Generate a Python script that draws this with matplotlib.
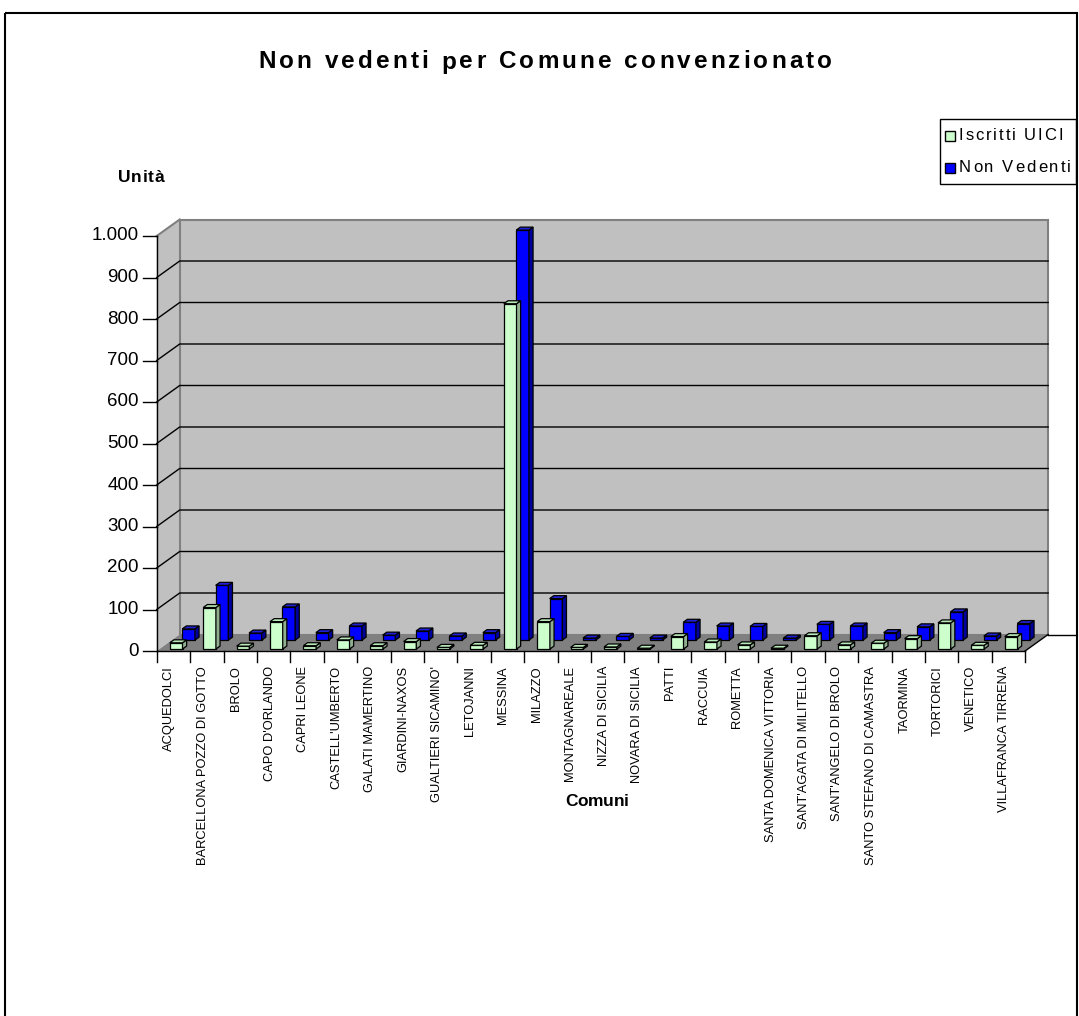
"""
Pseudo-3D column chart (Excel style): blind people per municipality.
The 3D look is drawn by hand with an oblique projection on a flat axes.
"""
import matplotlib

matplotlib.use("Agg")
import matplotlib.pyplot as plt  # noqa: E402
from matplotlib import font_manager, ft2font  # noqa: E402
from matplotlib.font_manager import FontProperties  # noqa: E402
from matplotlib.patches import Polygon, Rectangle  # noqa: E402
from matplotlib.transforms import Affine2D  # noqa: E402

W, H = 1079, 1016
FONT = "Liberation Sans"

comuni = [
    "ACQUEDOLCI", "BARCELLONA POZZO DI GOTTO", "BROLO", "CAPO D'ORLANDO",
    "CAPRI LEONE", "CASTELL'UMBERTO", "GALATI MAMERTINO", "GIARDINI-NAXOS",
    "GUALTIERI SICAMINO'", "LETOJANNI", "MESSINA", "MILAZZO", "MONTAGNAREALE",
    "NIZZA DI SICILIA", "NOVARA DI SICILIA", "PATTI", "RACCUIA", "ROMETTA",
    "SANTA DOMENICA VITTORIA", "SANT'AGATA DI MILITELLO", "SANT'ANGELO DI BROLO",
    "SANTO STEFANO DI CAMASTRA", "TAORMINA", "TORTORICI", "VENETICO",
    "VILLAFRANCA TIRRENA",
]
iscritti = [15, 100, 7, 66, 8, 22, 8, 18, 4, 9, 832, 66, 4, 5, 2,
            30, 17, 10, 2, 32, 10, 14, 25, 63, 9, 30]
non_vedenti = [27, 132, 17, 80, 18, 34, 12, 22, 10, 18, 988, 100, 5, 9, 5,
               43, 34, 33, 5, 38, 34, 18, 32, 68, 10, 40]
series_names = ["Iscritti UICI", "Non Vedenti"]
yticks = [0, 100, 200, 300, 400, 500, 600, 700, 800, 900, 1000]
ytick_labels = ["0", "100", "200", "300", "400", "500", "600", "700", "800",
                "900", "1.000"]
ymax = 1000

# box geometry (pixels of the reference picture)
X0_PX, Y0_PX = 156.7, 651.0      # front-left corner of the floor
CAT_PX, VAL_PX = 33.4, 0.415     # px per category, px per unit
DX, DY = 23 / CAT_PX, 16.5 / VAL_PX   # full depth offset, in data units

GREEN = ("#CCFFCC", "#8FAF8F", "#B8E8B8")   # front, side, top
BLUE = ("#0000FF", "#00009C", "#2020D8")

fig = plt.figure(figsize=(W / 100, H / 100), dpi=100)
ax = fig.add_axes([0, 0, 1, 1])
ax.set_xlim(-X0_PX / CAT_PX, (W - X0_PX) / CAT_PX)
ax.set_ylim(-(H - Y0_PX) / VAL_PX, Y0_PX / VAL_PX)
ax.axis("off")

# figure pixels, origin top-left
PX = Affine2D().scale(1, -1).translate(0, H)


def spaced_text(x, y, s, size, width, weight="normal", ha="center"):
    """Letter-spaced text, stretched to a given pixel width."""
    prop = FontProperties(family=FONT, size=size, weight=weight)
    font = ft2font.FT2Font(font_manager.findfont(prop))
    font.set_size(size, 100)
    adv = [font.load_char(ord(c)).linearHoriAdvance / 65536 for c in s]
    gap = (width - sum(adv)) / (len(s) - 1)
    left = x - width / 2 if ha == "center" else x
    for c, a in zip(s, adv):
        if c != " ":
            fig.text(left + a / 2, y, c, transform=PX, fontproperties=prop,
                     ha="center", va="center", color="black")
        left += a + gap


def box(x0, w, v, d0, d1, colors, z):
    front, side, top = colors
    xr = x0 + w
    ax.bar(x0 + d0 * DX, v, width=w, bottom=d0 * DY, align="edge",
           color=front, edgecolor="black", linewidth=0.9, zorder=z)
    side_pts = [(xr + d0 * DX, d0 * DY), (xr + d1 * DX, d1 * DY),
                (xr + d1 * DX, v + d1 * DY), (xr + d0 * DX, v + d0 * DY)]
    top_pts = [(x0 + d0 * DX, v + d0 * DY), (xr + d0 * DX, v + d0 * DY),
               (xr + d1 * DX, v + d1 * DY), (x0 + d1 * DX, v + d1 * DY)]
    for pts, col in ((side_pts, side), (top_pts, top)):
        ax.add_patch(Polygon(pts, closed=True, facecolor=col,
                             edgecolor="black", linewidth=0.9, zorder=z))


n = len(comuni)

# walls and floor
ax.add_patch(Polygon([(0, 0), (DX, DY), (DX, ymax + DY), (0, ymax)],
                     facecolor="#C0C0C0", edgecolor="none", zorder=1))
ax.add_patch(Polygon([(DX, DY), (n + DX, DY), (n + DX, ymax + DY), (DX, ymax + DY)],
                     facecolor="#C0C0C0", edgecolor="#808080", linewidth=1.5, zorder=1))
ax.plot([0, DX], [ymax, ymax + DY], color="#808080", lw=1.5, zorder=1)
ax.add_patch(Polygon([(0, 0), (n, 0), (n + DX, DY), (DX, DY)],
                     facecolor="#808080", edgecolor="none", zorder=1))

for v in yticks[1:-1]:
    ax.plot([0, DX, n + DX], [v, v + DY, v + DY], color="black", lw=1, zorder=2)

# value axis
ax.plot([0, 0], [0, ymax], color="black", lw=1, zorder=3)
for v, lab in zip(yticks, ytick_labels):
    ax.plot([-14 / CAT_PX, 0], [v, v], color="black", lw=1, zorder=3)
    ax.text(-18 / CAT_PX, v, lab, fontsize=13.5, family=FONT,
            ha="right", va="center")

# category axis
ax.plot([0, n], [0, 0], color="black", lw=1, zorder=3)
ax.plot([n, n + DX], [0, DY], color="black", lw=1, zorder=3)
ax.plot([n + DX, n + DX + 27 / CAT_PX], [DY, DY], color="black", lw=1, zorder=3)
for i in range(n + 1):
    ax.plot([i, i], [0, -11 / VAL_PX], color="black", lw=1, zorder=3)
for i, name in enumerate(comuni):
    ax.text(i + 0.38, -15 / VAL_PX, name, rotation=90, fontsize=9.3,
            family=FONT, ha="center", va="top")

# columns: back row (Non Vedenti) first, then front row (Iscritti UICI)
for i, v in enumerate(non_vedenti):
    box(i + 0.31, 0.38, v, 0.66, 0.84, BLUE, 4)
for i, v in enumerate(iscritti):
    box(i + 0.31, 0.38, v, 0.12, 0.30, GREEN, 5)

# titles
spaced_text(545, 62, "Non vedenti per Comune convenzionato", 17.5, 574, "bold")
spaced_text(141, 178, "Unità", 12.5, 46, "bold")
spaced_text(597, 801, "Comuni", 12.5, 64, "bold")

# legend
fig.add_artist(Rectangle((940, 119), 136, 65, transform=PX, fill=False,
                         edgecolor="black", linewidth=1))
for k, (name, col) in enumerate(zip(series_names, (GREEN[0], BLUE[0]))):
    yc = 136 + k * 32
    fig.add_artist(Rectangle((945, yc - 5), 10, 10, transform=PX,
                             facecolor=col, edgecolor="black", linewidth=1))
    spaced_text(959, yc, name, 12, 104 if k == 0 else 112, ha="left")

# outer frame of the embedded chart
fig.add_artist(Rectangle((5, 13), 1072, 1010, transform=PX, fill=False,
                         edgecolor="black", linewidth=1.5))

fig.savefig("out.png", dpi=100)
